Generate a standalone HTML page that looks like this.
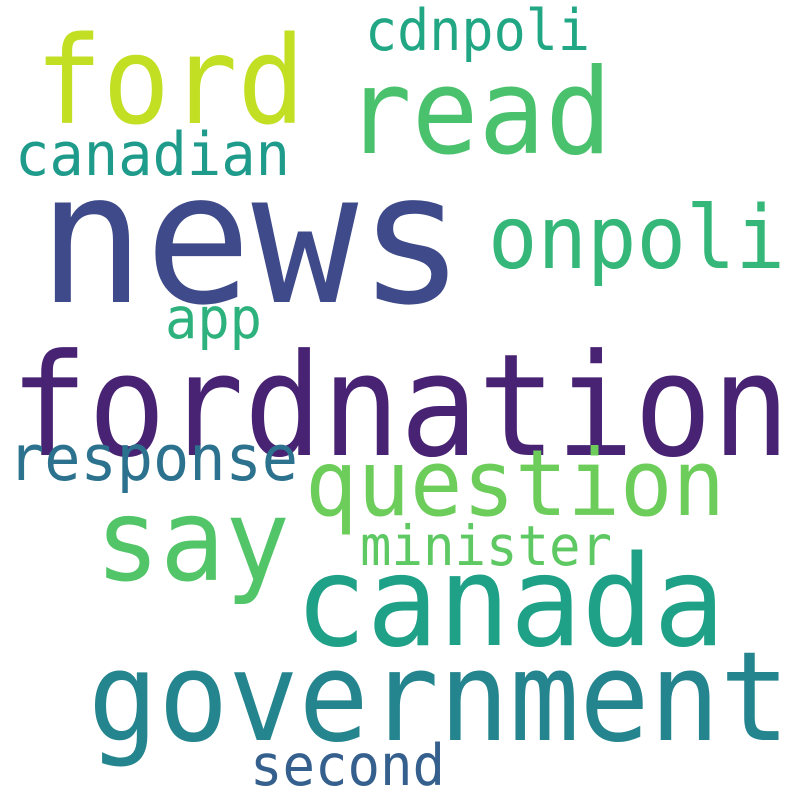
<!DOCTYPE html>
<html><head><meta charset="utf-8"><style>
html,body{margin:0;padding:0;background:#fff}
svg text{font-family:"DejaVu Sans Mono","Liberation Mono",monospace}
</style></head><body>
<svg width="800" height="800" viewBox="0 0 800 800">
<rect width="800" height="800" fill="#fff"/>
<g id="words"></g>
</svg>
<script>
const words=["news","fordnation","government","canada","ford","read","say","question","onpoli","canadian","cdnpoli","app","response","minister","second"];
const sizes=[182,142,124,126,121,119,114,92,87,60,57,57,63,55,57];
const colors=["#3e4a89","#482374","#25858e","#1fa187","#c2df23","#4ac16d","#52c569","#6ccd5a","#35b779","#1e9b8a","#22a785","#2db27d","#2c728e","#5ec962","#355f8d"];
const xs=[38,10,88,295,35,345,95,305,488,15,365,165,8,360,250];
const ys=[302,455,740,645,123,153,580,515,268,175,50,338,480,565,785];
const ws=[427,780,702,430,270,267,195,420,297,275,225,97,290,252,195];
const g=document.getElementById('words');
words.forEach((w,i)=>{
  const t=document.createElementNS('http://www.w3.org/2000/svg','text');
  
  
  t.setAttribute('x',xs[i]);t.setAttribute('y',ys[i]);
  t.setAttribute('font-size',sizes[i]);t.setAttribute('fill',colors[i]);
  t.setAttribute('textLength',ws[i]);t.setAttribute('lengthAdjust','spacingAndGlyphs');
  t.textContent=w;g.appendChild(t);
});
</script>
</body></html>
